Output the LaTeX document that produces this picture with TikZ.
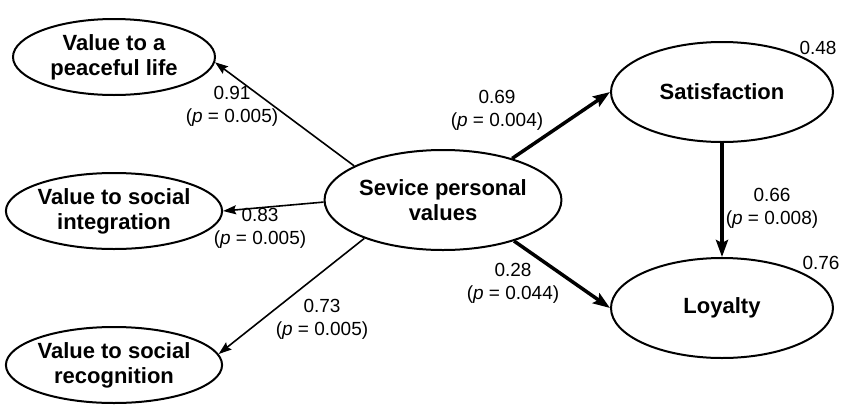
\documentclass[tikz,border=0pt]{standalone}
\usepackage{fontspec}
\setmainfont{Liberation Sans}
\usetikzlibrary{shapes.geometric,arrows.meta}
\begin{document}
\begin{tikzpicture}[x=1pt,y=-1pt,
  latent/.style={ellipse, draw, line width=2pt, inner sep=0pt, align=center,
    font=\fontsize{22}{25}\selectfont\bfseries},
  valuenode/.style={latent, minimum width=202pt, minimum height=76pt},
  bignode/.style={latent, minimum width=222pt, minimum height=100pt},
  thinpath/.style={line width=1.6pt, -{Stealth[length=13pt,width=9pt,inset=2pt]}},
  thickpath/.style={line width=3.5pt, -{Stealth[length=17pt,width=12pt,inset=3pt]}},
  coef/.style={align=center, inner sep=0pt, font=\fontsize{19}{23}\selectfont},
  rsq/.style={inner sep=0pt, font=\fontsize{19}{23}\selectfont}]
\useasboundingbox (0,0) rectangle (844,405);

% constructs
\node[valuenode] (pea) at (114,57)  {Value to a\\peaceful life};
\node[valuenode] (int) at (114,211) {Value to social\\integration};
\node[valuenode] (rec) at (114,365) {Value to social\\recognition};
\node[latent, minimum width=220pt, minimum height=100pt] (sev) at (443,200) {Sevice personal\\values};
\node[bignode] (sat) at (722,92)  {Satisfaction};
\node[bignode] (loy) at (722,308) {Loyalty};

% loadings
\draw[thinpath] (sev.159) -- (pea.-3);
\draw[thinpath] (sev.181) -- (int.east);
\draw[thinpath] (sev.206) -- (rec.6);

% structural paths
\draw[thickpath] (sev.31) -- (sat.west);
\draw[thickpath] (sev.-30) -- (loy.west);
\draw[thickpath] (sat.south) -- (loy.north);

% coefficients
\node[coef] (c1) at (232,106) {0.91\\(\textit{p} = 0.005)};
\node[coef] (c2) at (260,228) {0.83\\(\textit{p} = 0.005)};
\node[coef] (c3) at (322,319) {0.73\\(\textit{p} = 0.005)};
\node[coef] (c4) at (497,110) {0.69\\(\textit{p} = 0.004)};
\node[coef] (c5) at (513,283) {0.28\\(\textit{p} = 0.044)};
\node[coef] (c6) at (772,208) {0.66\\(\textit{p} = 0.008)};

% explained variance
\node[rsq] (r1) at (818,48)  {0.48};
\node[rsq] (r2) at (821,263) {0.76};
\end{tikzpicture}
\end{document}
